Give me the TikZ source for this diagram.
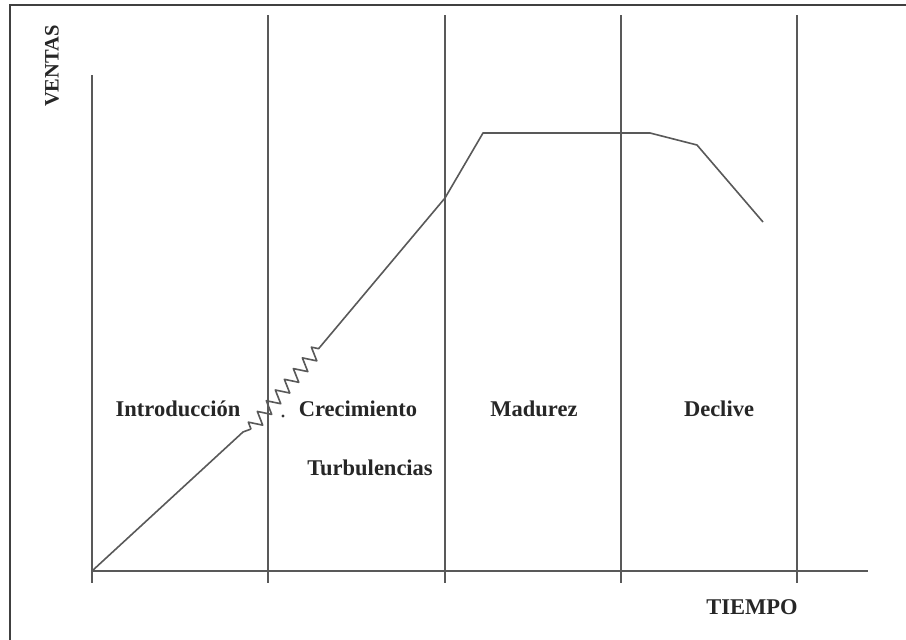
\documentclass[tikz,border=0pt]{standalone}
\usepackage{fontspec}
\setmainfont{Liberation Serif}
\usetikzlibrary{decorations.pathmorphing}
\begin{document}
\begin{tikzpicture}[x=1pt,y=-1pt,
  grid/.style={draw=black!65,line width=1.7pt},
  curve/.style={draw=black!65,line width=1.6pt,line join=round},
  lbl/.style={font=\bfseries\fontsize{22.5}{26}\selectfont,text=black!85,inner sep=0pt}]
\useasboundingbox (0,0) rectangle (906,640);
\fill[white] (0,0) rectangle (906,640);
% frame
\draw[draw=black!75,line width=2.5pt] (10,660) -- (10,5) -- (920,5);
% coordinates
\coordinate (o) at (92,571);
\coordinate (ytop) at (92,75);
\coordinate (xend) at (868,571);
\foreach \n/\x in {a/268,b/445,c/621,d/797}{
  \coordinate (\n top) at (\x,15);
  \coordinate (\n bot) at (\x,583);
}
\draw[grid] (ytop) -- (92,583);
\draw[grid] (o) -- (xend);
\foreach \n in {a,b,c,d}{\draw[grid] (\n top) -- (\n bot);}
% curve
\coordinate (p1) at (243,432);
\coordinate (z1) at (251,429);
\coordinate (z2) at (320,347);
\coordinate (p3) at (445,198);
\coordinate (p4) at (483,133);
\coordinate (p5) at (650,133);
\coordinate (p6) at (697,145);
\coordinate (p7) at (763,222);
\draw[curve] (o) -- (p1) -- (z1);
\draw[curve,decorate,decoration={zigzag,segment length=14pt,amplitude=6.5pt}] (z1) -- (z2);
\draw[curve] (z2) -- (p3) -- (p4) -- (p5) -- (p6) -- (p7);
\fill[black!80] (283,416) circle (1.6pt);
% labels
\node[lbl] (intro) at (178,409) {Introducción};
\node[lbl] (crec) at (358,409) {Crecimiento};
\node[lbl] (mad) at (534,409) {Madurez};
\node[lbl] (dec) at (719,409) {Declive};
\node[lbl] (turb) at (370,468) {Turbulencias};
\node[lbl] (tiempo) at (752,607) {TIEMPO};
\node[lbl,font=\bfseries\fontsize{20.5}{24}\selectfont,rotate=90] (ventas) at (52,66) {VENTAS};
\end{tikzpicture}
\end{document}
